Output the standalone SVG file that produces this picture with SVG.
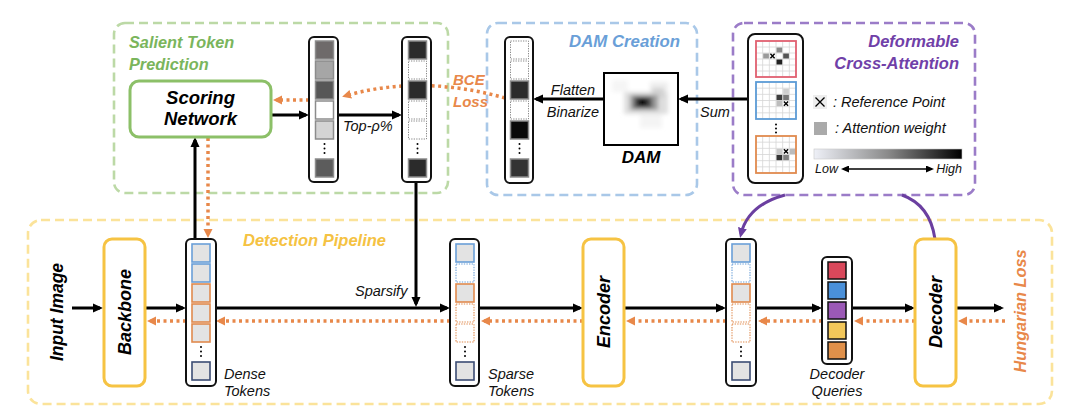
<svg xmlns="http://www.w3.org/2000/svg" width="1080" height="415" viewBox="0 0 1080 415">
<style>
text{font-family:"Liberation Sans",Arial,sans-serif;font-style:italic}
.t{font-size:14.5px;fill:#111}
.bt{font-weight:700}
.col{fill:#fff;stroke:#111;stroke-width:2}
.tk{fill:#e3e3e3;stroke-width:1.6}
.tkd{fill:#fff;stroke-width:1.1;stroke-dasharray:1.4 1.2}
.gd{fill:#fff;stroke:#8a8a8a;stroke-width:1;stroke-dasharray:1.3 1.2}
.pb{stroke:#8c8c8c;stroke-width:1.5}
.b{stroke:#6a9fd8}.o{stroke:#e08a4e}.n{stroke:#3b4c73}
.arr{stroke:#000;stroke-width:3;fill:none;marker-end:url(#ah)}
.od{stroke:#e8884a;stroke-width:3.5;stroke-dasharray:3 3.5;fill:none;marker-end:url(#oh)}
.pu{stroke:#6b3fa0;stroke-width:3;fill:none}
.box{fill:#fff;stroke:#f6c343;stroke-width:3}
.dash{fill:none;stroke-width:2.6;stroke-dasharray:9 5}
.gl{stroke:#d6d6d6;stroke-width:0.8;fill:none}
.xm{stroke:#000;stroke-width:1.4}
</style>
<defs>
<marker id="ah" markerUnits="userSpaceOnUse" markerWidth="11" markerHeight="10" refX="7" refY="5" orient="auto"><path d="M0,0.5 L10,5 L0,9.5 z" fill="#000"/></marker>
<marker id="oh" markerUnits="userSpaceOnUse" markerWidth="11" markerHeight="11" refX="6" refY="5.5" orient="auto"><path d="M0,1 L9,5.5 L0,10 z" fill="#e8884a"/></marker>
<marker id="ph" markerUnits="userSpaceOnUse" markerWidth="11" markerHeight="11" refX="6" refY="5.5" orient="auto"><path d="M0,1 L10,5.5 L0,10 z" fill="#6b3fa0"/></marker>
<marker id="sh" markerUnits="userSpaceOnUse" markerWidth="8" markerHeight="7" refX="6" refY="3.5" orient="auto-start-reverse"><path d="M0,0 L8,3.5 L0,7 z" fill="#000"/></marker>
<linearGradient id="grad" x1="0" x2="1" y1="0" y2="0"><stop offset="0" stop-color="#eef0f7"/><stop offset="0.5" stop-color="#8a8a8a"/><stop offset="1" stop-color="#000"/></linearGradient>
<filter id="blur" x="-30%" y="-30%" width="160%" height="160%"><feGaussianBlur stdDeviation="2"/></filter>
<clipPath id="damclip"><rect x="604" y="73" width="74" height="72"/></clipPath>
</defs>

<g id="salient-token-prediction">
<rect class="dash" x="114" y="23" width="334" height="170" rx="11" stroke="#bcd9a6"/>
<text class="bt" font-size="16.3" fill="#7ab55c"><tspan x="129" y="48">Salient Token</tspan><tspan x="129" y="70">Prediction</tspan></text>
</g>
<g id="dam-creation">
<rect class="dash" x="487" y="23" width="210" height="172" rx="11" stroke="#a9c8e8"/>
<text class="bt" x="680" y="47" font-size="16.8" fill="#6a9fd8" text-anchor="end">DAM Creation</text>
</g>
<g id="deformable-cross-attention">
<rect class="dash" x="733" y="23" width="242" height="172" rx="11" stroke="#9b7cc8"/>
<text class="bt" font-size="16.5" fill="#7040a8" text-anchor="end"><tspan x="959" y="47">Deformable</tspan><tspan x="959" y="69">Cross-Attention</tspan></text>
</g>
<g id="detection-pipeline">
<rect class="dash" x="28" y="220" width="1024" height="184" rx="13" stroke="#fbe39a"/>
<text class="bt" x="243" y="246" font-size="16.5" fill="#f5c242">Detection Pipeline</text>
</g>

<g id="connectors">
<path class="arr" d="M271,115 H306"/>
<path class="arr" d="M338,115 H399"/>
<path class="od" d="M309,100 H276"/>
<path class="arr" d="M604,99 H536"/>
<path class="arr" d="M748,99 H681"/>
<path class="arr" d="M416,182 V304"/>
<path class="arr" d="M195,239 V140"/>
<path class="od" d="M208,138 V235"/>
<path class="od" d="M505,98 Q420,74 345,96"/>
<path class="arr" d="M72,308 H100"/>
<path class="arr" d="M145,308 H183"/>
<path class="arr" d="M216,308 H447"/>
<path class="arr" d="M479,308 H580"/>
<path class="arr" d="M624,308 H723"/>
<path class="arr" d="M756,308 H819"/>
<path class="arr" d="M852,308 H912"/>
<path class="arr" d="M956,308 H1001"/>
<path class="od" d="M1005,321 H961"/>
<path class="od" d="M915,321 H857"/>
<path class="od" d="M822,321 H761"/>
<path class="od" d="M726,321 H629"/>
<path class="od" d="M583,321 H484"/>
<path class="od" d="M450,321 H219"/>
<path class="od" d="M186,321 H150"/>
<path class="pu" d="M785,195 Q748,205 741,234" marker-end="url(#ph)"/>
<path class="pu" d="M935,239 Q930,205 902,195"/>
<text class="t" x="343" y="131">Top-ρ%</text>
<text class="bt" font-size="15" fill="#e8884a"><tspan x="453" y="85">BCE</tspan><tspan x="453" y="107">Loss</tspan></text>
<text class="t" x="573" y="95" text-anchor="middle">Flatten</text>
<text class="t" x="573" y="117" text-anchor="middle">Binarize</text>
<text class="t" x="700" y="117">Sum</text>
<text class="t" x="355" y="296">Sparsify</text>
</g>

<g id="scoring-network">
<rect x="130" y="81" width="141" height="56" rx="9" fill="#fff" stroke="#8cc068" stroke-width="3"/>
<text class="bt" font-size="18.5" text-anchor="middle" fill="#000"><tspan x="200.5" y="103.5">Scoring</tspan><tspan x="200.5" y="124.5">Network</tspan></text>
</g>

<g id="token-scores">
<rect class="col" x="309" y="37" width="29" height="145" rx="5"/>
<rect class="pb" x="315.5" y="41" width="18" height="18" fill="#6e6a6a"/>
<rect class="pb" x="315.5" y="61" width="18" height="18" fill="#a6a6a6"/>
<rect class="pb" x="315.5" y="81" width="18" height="18" fill="#575757"/>
<rect class="pb" x="315.5" y="101" width="18" height="18" fill="#fff"/>
<rect class="pb" x="315.5" y="121" width="18" height="18" fill="#d4d4d4"/>
<circle cx="324.5" cy="144" r="1" fill="#000"/><circle cx="324.5" cy="148.5" r="1" fill="#000"/><circle cx="324.5" cy="153" r="1" fill="#000"/>
<rect class="pb" x="315.5" y="159" width="18" height="18" fill="#5c5c5c"/>
</g>

<g id="topk-tokens">
<rect class="col" x="402" y="37" width="29" height="145" rx="5"/>
<rect class="pb" x="408.5" y="41" width="18" height="18" fill="#2b2b2b"/>
<rect class="gd" x="408.5" y="61" width="18" height="18"/>
<rect class="pb" x="408.5" y="81" width="18" height="18" fill="#2b2b2b"/>
<rect class="gd" x="408.5" y="101" width="18" height="18"/>
<rect class="gd" x="408.5" y="121" width="18" height="18"/>
<circle cx="417.5" cy="144" r="1" fill="#000"/><circle cx="417.5" cy="148.5" r="1" fill="#000"/><circle cx="417.5" cy="153" r="1" fill="#000"/>
<rect class="pb" x="408.5" y="159" width="18" height="18" fill="#2b2b2b"/>
</g>

<g id="dam-tokens">
<rect class="col" x="505" y="37" width="28" height="146" rx="5"/>
<rect class="gd" x="510.5" y="41" width="18" height="18"/>
<rect class="gd" x="510.5" y="61" width="18" height="18"/>
<rect class="pb" x="510.5" y="81" width="18" height="18" fill="#2b2b2b"/>
<rect class="gd" x="510.5" y="101" width="18" height="18"/>
<rect class="pb" x="510.5" y="121" width="18" height="18" fill="#0a0a0a"/>
<circle cx="519.5" cy="144" r="1" fill="#000"/><circle cx="519.5" cy="148.5" r="1" fill="#000"/><circle cx="519.5" cy="153" r="1" fill="#000"/>
<rect class="pb" x="510.5" y="159" width="18" height="18" fill="#333"/>
</g>

<g id="dam">
<rect x="604" y="73" width="74" height="72" fill="#fff"/>
<g clip-path="url(#damclip)" filter="url(#blur)">
<rect x="612" y="80" width="16" height="12" fill="#f5f5f5"/>
<rect x="650" y="82" width="18" height="14" fill="#eeeeee"/>
<rect x="640" y="112" width="22" height="16" fill="#f4f4f4"/>
<rect x="624" y="92" width="44" height="22" fill="#dedede"/>
<rect x="652" y="88" width="12" height="10" fill="#d2d2d2"/>
<rect x="630" y="95" width="28" height="15" fill="#9a9a9a"/>
<rect x="634" y="97" width="18" height="11" fill="#4a4a4a"/>
<rect x="638" y="98" width="9" height="8" fill="#000"/>
</g>
<rect x="604" y="73" width="74" height="72" fill="none" stroke="#000" stroke-width="2"/>
<text class="bt" x="641" y="163" font-size="17" text-anchor="middle" fill="#000">DAM</text>
</g>

<g id="attention-maps">
<rect class="col" x="748" y="34" width="55" height="149" rx="7"/>
<g transform="translate(756,41)">
<rect width="40" height="36" fill="#fff"/>
<path class="gl" d="M6.67,0V36M13.33,0V36M20,0V36M26.67,0V36M33.33,0V36M0,6H40M0,12H40M0,18H40M0,24H40M0,30H40"/>
<rect x="20.5" y="6.5" width="5.7" height="5" fill="#8a8a8a"/>
<rect x="7.2" y="12.5" width="5.7" height="5" fill="#9a9a9a"/>
<rect x="27.2" y="12.5" width="5.7" height="5" fill="#555"/>
<rect x="20.5" y="18.5" width="5.7" height="5" fill="#222"/>
<path class="xm" d="M14.4,12.8 L18.6,17.2 M18.6,12.8 L14.4,17.2"/>
<rect width="40" height="36" fill="none" stroke="#e06070" stroke-width="1.8"/>
</g>
<g transform="translate(756,82)">
<rect width="40" height="37" fill="#fff"/>
<path class="gl" d="M6.67,0V37M13.33,0V37M20,0V37M26.67,0V37M33.33,0V37M0,6.17H40M0,12.33H40M0,18.5H40M0,24.67H40M0,30.83H40"/>
<rect x="27.2" y="6.6" width="5.7" height="5.3" fill="#cfcfcf"/>
<rect x="20.5" y="12.8" width="5.7" height="5.3" fill="#3d3d3d"/>
<rect x="27.2" y="12.8" width="5.7" height="5.3" fill="#777"/>
<rect x="20.5" y="18.9" width="5.7" height="5.3" fill="#bdbdbd"/>
<path class="xm" d="M27.9,19.4 L32.1,23.8 M32.1,19.4 L27.9,23.8"/>
<rect width="40" height="37" fill="none" stroke="#5b9bd5" stroke-width="1.8"/>
</g>
<circle cx="776" cy="124.5" r="1" fill="#000"/><circle cx="776" cy="128.5" r="1" fill="#000"/><circle cx="776" cy="132.5" r="1" fill="#000"/>
<g transform="translate(756,136)">
<rect width="40" height="37" fill="#fff"/>
<path class="gl" d="M6.67,0V37M13.33,0V37M20,0V37M26.67,0V37M33.33,0V37M0,6.17H40M0,12.33H40M0,18.5H40M0,24.67H40M0,30.83H40"/>
<rect x="20.5" y="12.8" width="5.7" height="5.3" fill="#c8c8c8"/>
<rect x="33.8" y="12.8" width="5.7" height="5.3" fill="#bbb"/>
<rect x="20.5" y="18.9" width="5.7" height="5.3" fill="#333"/>
<rect x="27.2" y="18.9" width="5.7" height="5.3" fill="#808080"/>
<path class="xm" d="M27.9,13.2 L32.1,17.6 M32.1,13.2 L27.9,17.6"/>
<rect width="40" height="37" fill="none" stroke="#e08a4e" stroke-width="1.8"/>
</g>
</g>

<g id="legend">
<rect x="813" y="95" width="14" height="14" fill="#eeeeee"/>
<path d="M815.5,97.5 L824.5,106.5 M824.5,97.5 L815.5,106.5" stroke="#000" stroke-width="1.3"/>
<text class="t" x="833" y="107">: Reference Point</text>
<rect x="814" y="122" width="13" height="13" fill="#aaaaaa"/>
<text class="t" x="835" y="133">: Attention weight</text>
<rect x="814" y="149" width="148" height="10" fill="url(#grad)" stroke="#c8c8c8" stroke-width="0.6"/>
<path d="M843,169 H932" stroke="#000" stroke-width="1.5" marker-start="url(#sh)" marker-end="url(#sh)"/>
<text x="815" y="173" font-size="12.5" fill="#111">Low</text>
<text x="962" y="173" font-size="12.5" fill="#111" text-anchor="end">High</text>
</g>

<g id="input-image">
<text class="bt" transform="translate(57,312) rotate(-90)" font-size="17.5" text-anchor="middle" dominant-baseline="central" fill="#000">Input Image</text>
</g>

<g id="backbone">
<rect class="box" x="104" y="239" width="41" height="147" rx="8"/>
<text class="bt" transform="translate(125,312) rotate(-90)" font-size="18" text-anchor="middle" dominant-baseline="central" fill="#000">Backbone</text>
</g>

<g id="dense-tokens">
<rect class="col" x="186" y="239" width="30" height="147" rx="5"/>
<rect class="tk b" x="192" y="244" width="18" height="18"/>
<rect class="tk b" x="192" y="264" width="18" height="18"/>
<rect class="tk o" x="192" y="284" width="18" height="18"/>
<rect class="tk o" x="192" y="304" width="18" height="18"/>
<rect class="tk o" x="192" y="324" width="18" height="18"/>
<circle cx="201" cy="347" r="1" fill="#000"/><circle cx="201" cy="351.5" r="1" fill="#000"/><circle cx="201" cy="356" r="1" fill="#000"/>
<rect class="tk n" x="192" y="362" width="18" height="18"/>
<text class="t"><tspan x="224" y="379">Dense</tspan><tspan x="224" y="395.5">Tokens</tspan></text>
</g>

<g id="sparse-tokens">
<rect class="col" x="450" y="239" width="29" height="147" rx="5"/>
<rect class="tk b" x="456" y="244" width="18" height="18"/>
<rect class="tkd b" x="456" y="264" width="18" height="18"/>
<rect class="tk o" x="456" y="284" width="18" height="18"/>
<rect class="tkd o" x="456" y="304" width="18" height="18"/>
<rect class="tkd o" x="456" y="324" width="18" height="18"/>
<circle cx="465" cy="347" r="1" fill="#000"/><circle cx="465" cy="351.5" r="1" fill="#000"/><circle cx="465" cy="356" r="1" fill="#000"/>
<rect class="tk n" x="456" y="362" width="18" height="18"/>
<text class="t"><tspan x="488" y="379">Sparse</tspan><tspan x="488" y="395.5">Tokens</tspan></text>
</g>

<g id="encoder">
<rect class="box" x="583" y="239" width="41" height="147" rx="8"/>
<text class="bt" transform="translate(604,312) rotate(-90)" font-size="18" text-anchor="middle" dominant-baseline="central" fill="#000">Encoder</text>
</g>

<g id="encoded-tokens">
<rect class="col" x="726" y="239" width="30" height="147" rx="5"/>
<rect class="tk b" x="732" y="244" width="18" height="18"/>
<rect class="tkd b" x="732" y="264" width="18" height="18"/>
<rect class="tk o" x="732" y="284" width="18" height="18"/>
<rect class="tkd o" x="732" y="304" width="18" height="18"/>
<rect class="tkd o" x="732" y="324" width="18" height="18"/>
<circle cx="741" cy="347" r="1" fill="#000"/><circle cx="741" cy="351.5" r="1" fill="#000"/><circle cx="741" cy="356" r="1" fill="#000"/>
<rect class="tk n" x="732" y="362" width="18" height="18"/>
</g>

<g id="decoder-queries">
<rect class="col" x="822" y="257" width="30" height="107" rx="5"/>
<rect x="828" y="262" width="18" height="17" fill="#d9485b" stroke="#111" stroke-width="1.5"/>
<rect x="828" y="282" width="18" height="17" fill="#4a90d9" stroke="#111" stroke-width="1.5"/>
<rect x="828" y="302" width="18" height="17" fill="#9b59b6" stroke="#111" stroke-width="1.5"/>
<rect x="828" y="322" width="18" height="17" fill="#f2c75a" stroke="#111" stroke-width="1.5"/>
<rect x="828" y="342" width="18" height="17" fill="#e0904a" stroke="#111" stroke-width="1.5"/>
<text class="t" text-anchor="middle"><tspan x="837" y="379">Decoder</tspan><tspan x="837" y="395.5">Queries</tspan></text>
</g>

<g id="decoder">
<rect class="box" x="915" y="239" width="41" height="147" rx="8"/>
<text class="bt" transform="translate(936,312) rotate(-90)" font-size="18" text-anchor="middle" dominant-baseline="central" fill="#000">Decoder</text>
</g>

<g id="hungarian-loss">
<text class="bt" transform="translate(1020,311) rotate(-90)" font-size="16.3" text-anchor="middle" dominant-baseline="central" fill="#e8884a">Hungarian Loss</text>
</g>
</svg>
